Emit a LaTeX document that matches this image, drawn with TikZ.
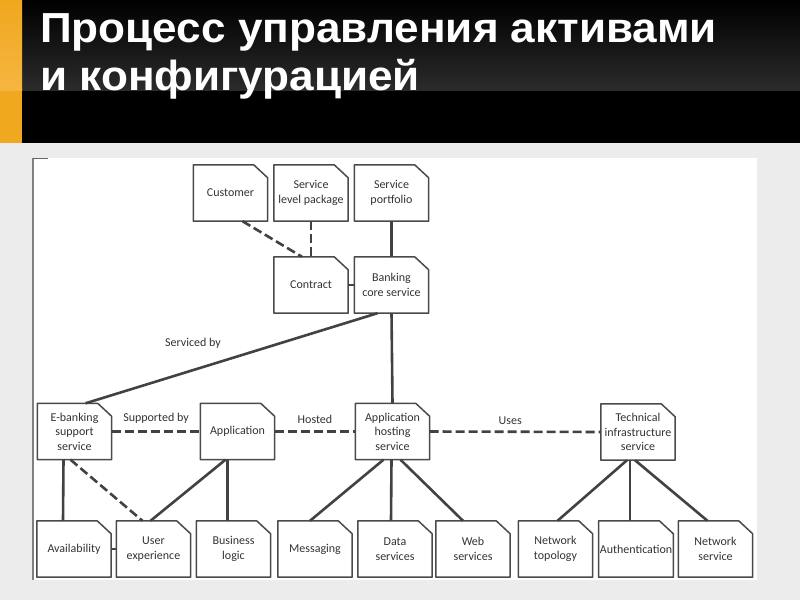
\documentclass[tikz,border=0pt]{standalone}
\usepackage{fontspec}
\setmainfont{Liberation Sans}
\newfontfamily\diagfont{Carlito}
\definecolor{bandgray}{HTML}{2B2B2B}
\definecolor{barorange}{HTML}{F0A81E}
\definecolor{barlight}{HTML}{F5B540}
\definecolor{pagegray}{HTML}{ECECEC}
\definecolor{boxline}{HTML}{4A4A4A}
\definecolor{linkgray}{HTML}{424242}
\definecolor{textgray}{HTML}{333333}
\begin{document}
\begin{tikzpicture}[x=1pt, y=-1pt,
	doc/.style={minimum width=74pt, minimum height=56pt, inner sep=1pt, align=center,
		font=\diagfont\fontsize{12}{14.5}\selectfont, text=textgray},
	link/.style={draw=linkgray, line width=2.6pt},
	dlink/.style={link, dash pattern=on 9pt off 4pt},
	tag/.style={font=\diagfont\fontsize{12}{14}\selectfont, text=textgray},
	headline/.style={anchor=base west, inner sep=0pt, text=white, xscale=1.05,
		font=\bfseries\fontsize{42}{48}\selectfont}]
	\useasboundingbox (0,0) rectangle (800,600);
	%background
	\fill[pagegray] (0,0) rectangle (800,600);
	\fill[black] (0,0) rectangle (800,143);
	\shade[top color=black, bottom color=bandgray] (0,0) rectangle (800,90);
	\fill[barorange] (0,0) rectangle (22,143);
	\shade[top color=barorange, bottom color=barlight] (0,0) rectangle (22,90);
	\fill[white] (33,158) rectangle (757,580);
	\draw[gray, line width=1.2pt] (33,158) -- (33,580);
	\draw[gray!80!black, line width=1pt] (33,158) -- (48,158);
	%title
	\node[headline] (title1) at (40,42) {Процесс управления активами};
	\node[headline] (title2) at (40,90) {и конфигурацией};
	%boxes
	\node[doc] (cust) at (230.5,193) {Customer};
	\node[doc] (slp) at (311,193) {Service\\level package};
	\node[doc] (sp) at (391.5,193) {Service\\portfolio};
	\node[doc] (contr) at (311,285) {Contract};
	\node[doc] (bank) at (391.5,285) {Banking\\core service};
	\node[doc] (ebank) at (74.5,431.5) {E-banking\\support\\service};
	\node[doc] (appl) at (237.5,431.5) {Application};
	\node[doc] (ahost) at (392.5,431.5) {Application\\hosting\\service};
	\node[doc] (tech) at (638,432) {Technical\\infrastructure\\service};
	\node[doc] (avail) at (74,549) {Availability};
	\node[doc] (ux) at (153.5,549) {User\\experience};
	\node[doc] (blogic) at (233.5,549) {Business\\logic};
	\node[doc] (msg) at (315,549) {Messaging};
	\node[doc] (data) at (395,549) {Data\\services};
	\node[doc] (web) at (473,549) {Web\\services};
	\node[doc] (ntop) at (555.5,549) {Network\\topology};
	\node[doc] (auth) at (636,549) {Authentication};
	\node[doc] (nserv) at (715.5,549) {Network\\service};
	\foreach \n in {cust,slp,sp,contr,bank,ebank,appl,ahost,tech,avail,ux,blogic,msg,data,web,ntop,auth,nserv}
	\draw[boxline, line width=1.5pt, line join=round] (\n.south west) -- (\n.south east)
		-- ([yshift=-13pt]\n.north east) -- ([xshift=-14pt]\n.north east) -- (\n.north west) -- cycle;
	%top links
	\draw[dlink] ([xshift=12pt]cust.south) -- ([xshift=-9pt]contr.north);
	\draw[dlink] (slp.south) -- (contr.north);
	\draw[link] (sp.south) -- (bank.north);
	\draw[link] (contr.east) -- (bank.west);
	\draw[link] (bank.south) -- (ahost.north);
	\draw[link] ([xshift=-14pt]bank.south) -- ([xshift=11pt]ebank.north);
	\node[tag] (servby) at (193,343) {Serviced by};
	%middle row
	\draw[dlink] (ebank.east) -- node[tag, above=3pt] (suppby) {Supported by} (appl.west);
	\draw[dlink] (appl.east) -- node[tag, above=3pt] (hosted) {Hosted} (ahost.west);
	\draw[dlink] (ahost.east) -- node[tag, above=3pt, xshift=-5pt] (uses) {Uses} (tech.west);
	%bottom links
	\draw[link] ([xshift=-11pt]ebank.south) -- ([xshift=-11pt]avail.north);
	\draw[dlink] ([xshift=-4pt]ebank.south) -- ([xshift=-11pt]ux.north);
	\draw[link] (avail.east) -- (ux.west);
	\draw[link] ([xshift=-12pt]appl.south) -- ([xshift=-3pt]ux.north);
	\draw[link] ([xshift=-10pt]appl.south) -- ([xshift=-6pt]blogic.north);
	\draw[link] ([xshift=-9pt]ahost.south) -- ([xshift=-5pt]msg.north);
	\draw[link] ([xshift=-1pt]ahost.south) -- ([xshift=-4pt]data.north);
	\draw[link] ([xshift=8pt]ahost.south) -- ([xshift=-10pt]web.north);
	\draw[link] ([xshift=-11pt]tech.south) -- ([xshift=2pt]ntop.north);
	\draw[link] ([xshift=-8pt]tech.south) -- ([xshift=-6pt]auth.north);
	\draw[link] ([xshift=-3pt]tech.south) -- ([xshift=-8pt]nserv.north);
\end{tikzpicture}
\end{document}
